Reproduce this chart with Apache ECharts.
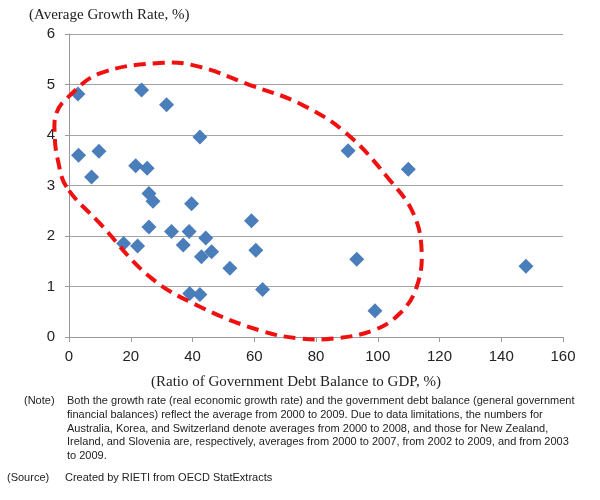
<!DOCTYPE html>
<html>
<head>
<meta charset="utf-8">
<script src="https://cdn.jsdelivr.net/npm/echarts@6/dist/echarts.min.js"></script>
<style>
  html, body { margin: 0; padding: 0; background: #fff; }
  #main { width: 600px; height: 500px; }
</style>
</head>
<body>
<div id="main"></div>
<script>
// 政府债务比率 (x) 与 平均增长率 (y)
var debtRatio = [2.9, 23.5, 31.6, 42.4, 3.1, 9.7, 7.3, 21.6, 25.3, 25.9, 27.2, 39.7,
  25.9, 33.2, 38.9, 44.3, 17.7, 22.2, 37.0, 59.1, 60.5, 46.2, 42.9, 52.1, 39.1, 42.4, 62.7,
  90.4, 109.9, 93.2, 99.1, 148.0];
var growthRate = [4.81, 4.89, 4.60, 3.96, 3.60, 3.68, 3.17, 3.39, 3.34, 2.84, 2.69, 2.64,
  2.18, 2.09, 2.09, 1.96, 1.85, 1.80, 1.82, 2.30, 1.72, 1.69, 1.59, 1.36, 0.86, 0.84, 0.94,
  3.69, 3.32, 1.54, 0.52, 1.40];

// 坐标轴刻度
var xTicks = [0, 20, 40, 60, 80, 100, 120, 140, 160];
var yTicks = [0, 1, 2, 3, 4, 5, 6];

// 红色虚线圈（数据坐标下的轮廓）
var ringOutline = [
  [-0.8, 2.97], [-3.6, 3.5], [-4.6, 3.96], [-4.1, 4.43], [-0.3, 4.75], [10, 5.22],
  [30.5, 5.43], [42.4, 5.35], [58.6, 4.99], [74.8, 4.62], [89.9, 4.03], [104, 3.1],
  [111.5, 2.45], [114.2, 1.72], [112.6, 0.99], [107.2, 0.47], [98.5, 0.13], [85.6, -0.03],
  [74.8, -0.03], [61.8, 0.13], [42.4, 0.6], [26.2, 1.19], [10, 2.25]
];

var noteLines = [
  "Both the growth rate (real economic growth rate) and the government debt balance (general government",
  "financial balances) reflect the average from 2000 to 2009. Due to data limitations, the numbers for",
  "Australia, Korea, and Switzerland denote averages from 2000 to 2008, and those for New Zealand,",
  "Ireland, and Slovenia are, respectively, averages from 2000 to 2007, from 2002 to 2009, and from 2003",
  "to 2009."
];

var points = [];
for (var i = 0; i < debtRatio.length; i++) {
  points.push([debtRatio[i], growthRate[i]]);
}

var myChart = echarts.init(document.getElementById('main'));
var option = {
  animation: false,
  backgroundColor: '#fff',
  grid: { left: 69, right: 37, top: 34, bottom: 163 },
  xAxis: {
    type: 'value',
    min: xTicks[0],
    max: xTicks[xTicks.length - 1],
    interval: 20,
    axisLine: { show: true, lineStyle: { color: '#9a9a9a' } },
    axisTick: { show: true, length: 5, lineStyle: { color: '#9a9a9a' } },
    axisLabel: { color: '#222', fontSize: 15, fontFamily: 'Liberation Sans', margin: 12 },
    splitLine: { show: false }
  },
  yAxis: {
    type: 'value',
    min: yTicks[0],
    max: yTicks[yTicks.length - 1],
    interval: 1,
    axisLine: { show: true, lineStyle: { color: '#9a9a9a' } },
    axisTick: { show: true, length: 4, lineStyle: { color: '#9a9a9a' } },
    axisLabel: { color: '#222', fontSize: 15, fontFamily: 'Liberation Sans', margin: 14 },
    splitLine: { show: true, lineStyle: { color: '#a4a4a4', width: 1 } }
  },
  series: [
    {
      type: 'scatter',
      symbol: 'diamond',
      symbolSize: 15,
      itemStyle: { color: '#4a7ebb', opacity: 1 },
      data: points,
      z: 2
    },
    {
      type: 'custom',
      clip: false,
      z: 3,
      data: [0],
      renderItem: function (params, api) {
        var pts = ringOutline.map(function (p) { return api.coord(p); });
        return {
          type: 'polygon',
          shape: { points: pts, smooth: 0.4 },
          style: { fill: null, stroke: '#f01010', lineWidth: 4, lineDash: [12, 7] }
        };
      }
    }
  ],
  graphic: [
    {
      type: 'text', left: 29, top: 8,
      style: { text: '(Average Growth Rate, %)', fill: '#222', font: '15px "Liberation Serif"' }
    },
    {
      type: 'text', left: 151, top: 375,
      style: { text: '(Ratio of Government Debt Balance to GDP, %)', fill: '#222', font: '15px "Liberation Serif"' }
    },
    {
      type: 'text', left: 24, top: 394,
      style: { text: '(Note)', fill: '#222', font: '11px "Liberation Sans"', lineHeight: 13.8 }
    },
    {
      type: 'text', left: 67, top: 394,
      style: { text: noteLines.join('\n'), fill: '#222', font: '11px "Liberation Sans"', lineHeight: 13.8 }
    },
    {
      type: 'text', left: 7, top: 471,
      style: { text: '(Source)', fill: '#222', font: '11px "Liberation Sans"', lineHeight: 13.8 }
    },
    {
      type: 'text', left: 65, top: 471,
      style: { text: 'Created by RIETI from OECD StatExtracts', fill: '#222', font: '11px "Liberation Sans"', lineHeight: 13.8 }
    }
  ]
};
myChart.setOption(option);
</script>
</body>
</html>
